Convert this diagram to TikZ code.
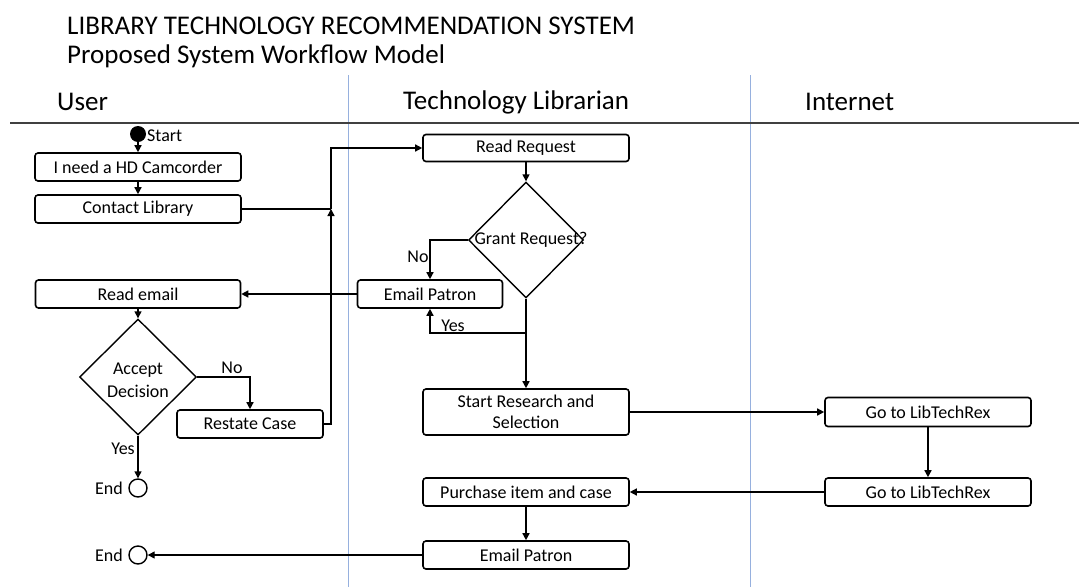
\documentclass[tikz,border=0pt]{standalone}
\usepackage{fontspec}
\setmainfont{Carlito}
\usetikzlibrary{shapes.geometric,arrows.meta,calc}
\begin{document}
\begin{tikzpicture}[x=1pt,y=-1pt,
  box/.style={draw=black,line width=1.6pt,rounded corners=3pt,minimum height=28pt,inner sep=1pt,font=\fontsize{18}{21}\selectfont,align=center},
  dec/.style={draw=black,line width=1.4pt,diamond,inner sep=0pt,font=\fontsize{18}{22}\selectfont,align=center},
  conn/.style={line width=1.4pt,-{Triangle[length=7pt,width=7pt]}},
  plain/.style={line width=1.4pt},
  lbl/.style={font=\fontsize{18}{21}\selectfont,inner sep=1pt},
  hdr/.style={font=\fontsize{27}{31}\selectfont,anchor=west,inner sep=0pt},
  lane/.style={draw={rgb,255:red,150;green,176;blue,222},line width=1pt}
]
\useasboundingbox (0,0) rectangle (1079,587);
\fill[white] (0,0) rectangle (1079,587);
% titles
\node[hdr] (t1) at (67,26) {LIBRARY TECHNOLOGY RECOMMENDATION SYSTEM};
\node[hdr] (t2) at (67,56) {Proposed System Workflow Model};
\node[hdr] (hu) at (57,102) {User};
\node[hdr] (ht) at (403,102) {Technology Librarian};
\node[hdr] (hi) at (805,102) {Internet};
% lanes
\coordinate (l1a) at (348,75); \coordinate (l1b) at (348,587);
\coordinate (l2a) at (750,75); \coordinate (l2b) at (750,587);
\draw[lane] (l1a) -- (l1b);
\draw[lane] (l2a) -- (l2b);
\coordinate (ha) at (10,123); \coordinate (hb) at (1079,123);
\draw[line width=1.6pt,black!75] (ha) -- (hb);
% user lane
\node[circle,fill=black,minimum size=16pt,inner sep=0pt] (start) at (138,134) {};
\node[lbl,anchor=west] (startl) at (146,136) {Start};
\node[box,minimum width=206pt] (need) at (138,167) {I need a HD Camcorder};
\node[box,minimum width=206pt] (contact) at (138,209) {Contact Library};
\node[box,minimum width=205pt] (reademail) at (138,294) {Read email};
\node[dec,minimum width=117pt,minimum height=116pt] (accept) at (138,377) {};
\node[lbl,align=center,font=\fontsize{18}{23}\selectfont] (acceptl) at (138,380) {Accept\\Decision};
\node[box,minimum width=146pt] (restate) at (250,424) {Restate Case};
\node[circle,draw=black,line width=1.4pt,minimum size=18pt,inner sep=0pt] (end1) at (138,488) {};
\node[lbl,anchor=east] (end1l) at (124,488) {End};
\node[circle,draw=black,line width=1.4pt,minimum size=18pt,inner sep=0pt] (end2) at (138,555) {};
\node[lbl,anchor=east] (end2l) at (124,555) {End};
% librarian lane
\node[box,minimum width=206pt,minimum height=27pt] (readreq) at (526,148) {Read Request};
\node[dec,minimum width=115pt,minimum height=116pt] (grant) at (526,240) {};
\node[lbl] (grantl) at (531,240) {Grant Request?};
\node[box,minimum width=145pt] (email1) at (430,294) {Email Patron};
\node[box,minimum width=206pt,minimum height=46pt] (research) at (526,412) {Start Research and\\Selection};
\node[box,minimum width=206pt] (purchase) at (526,492) {Purchase item and case};
\node[box,minimum width=206pt] (email2) at (526,555) {Email Patron};
% internet lane
\node[box,minimum width=206pt,minimum height=29pt] (go1) at (928,412) {Go to LibTechRex};
\node[box,minimum width=206pt] (go2) at (928,492) {Go to LibTechRex};
% connectors
\draw[conn] (start) -- (need);
\draw[conn] (need) -- (contact);
\coordinate (jn) at (331,209);
\draw[plain] (contact.east) -- (jn);
\draw[conn] (jn) |- (readreq.west);
\coordinate (jr) at (331,424);
\draw[conn] (restate.east) -- (jr) -- (jn);
\draw[conn] (readreq) -- (grant.north);
\draw[conn] (grant.west) -| (email1.north);
\node[lbl] (nol) at (418,257) {No};
\coordinate (yj) at (526,333);
\draw[conn] (grant.south) -- (research.north);
\draw[conn] (yj) -| (email1.south);
\node[lbl] (yesl) at (453,326) {Yes};
\draw[conn] (email1.west) -- (reademail.east);
\draw[conn] (reademail) -- (accept.north);
\draw[conn] (accept.east) -| (restate.north);
\node[lbl] (no2l) at (232,368) {No};
\draw[conn] (accept.south) -- (end1);
\node[lbl] (yes2l) at (123,449) {Yes};
\draw[conn] (research.east) -- (go1.west);
\draw[conn] (go1) -- (go2);
\draw[conn] (go2) -- (purchase);
\draw[conn] (purchase) -- (email2);
\draw[conn] (email2) -- (end2);
\end{tikzpicture}
\end{document}
